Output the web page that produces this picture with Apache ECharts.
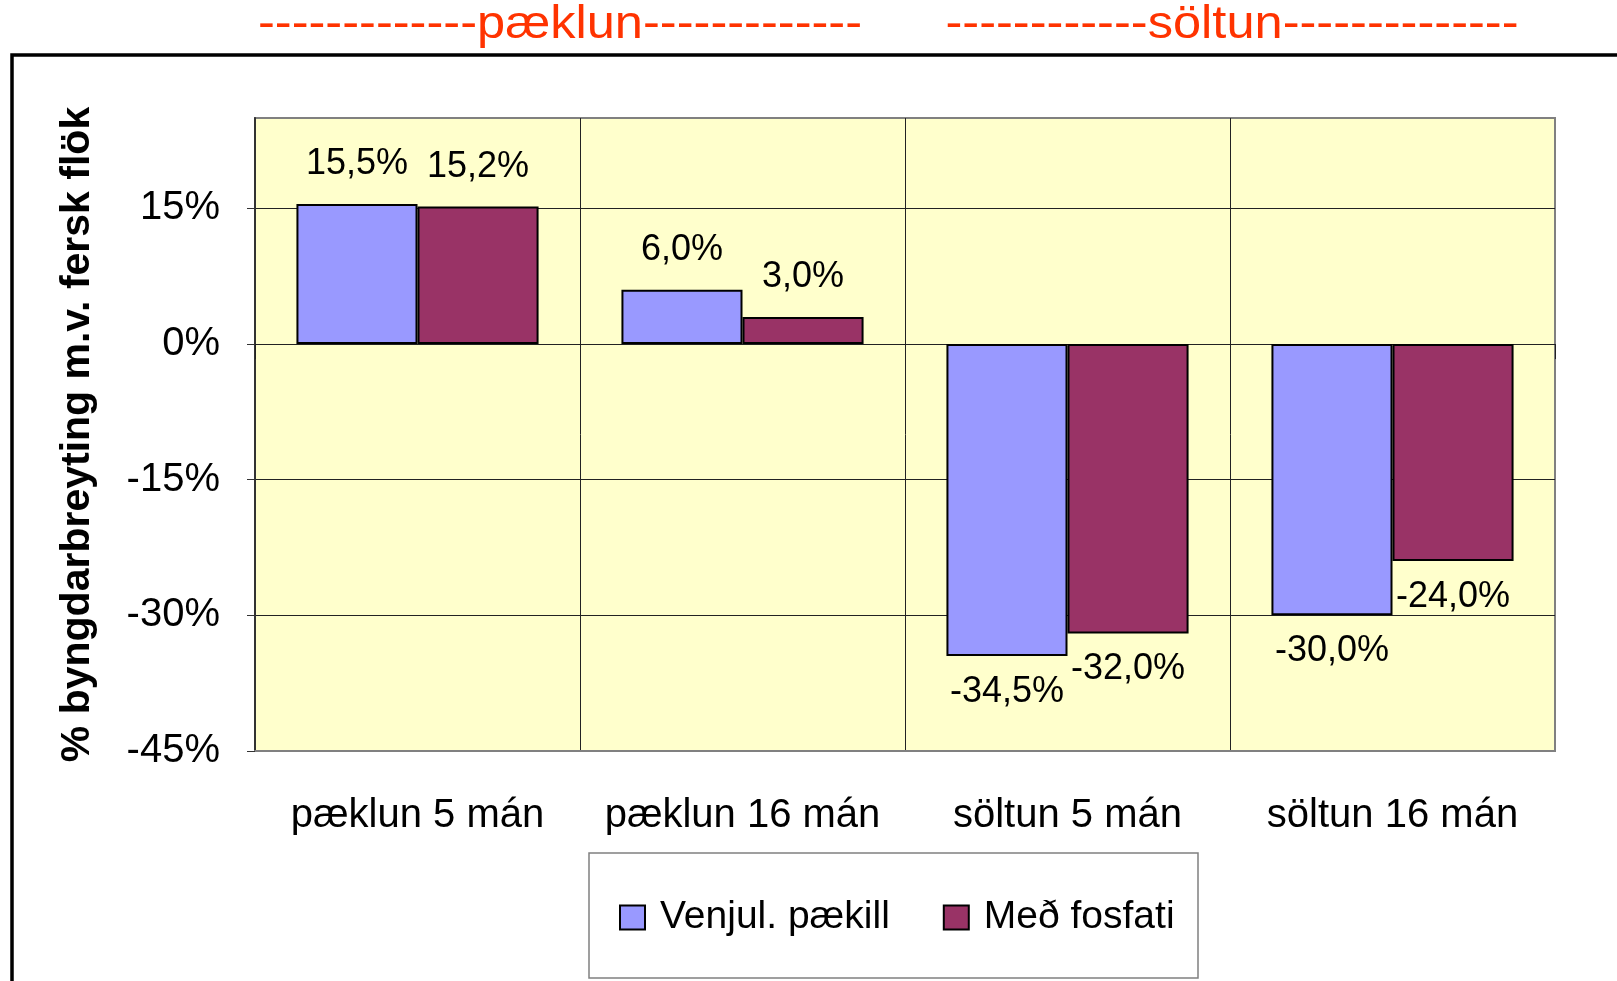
<!DOCTYPE html>
<html>
<head>
<meta charset="utf-8">
<script src="https://cdn.jsdelivr.net/npm/echarts@6/dist/echarts.min.js"></script>
<style>
  html, body { margin: 0; padding: 0; background: #fff; }
  #main { width: 1617px; height: 981px; }
</style>
</head>
<body>
<div id="main"></div>
<script>
// gögn lesin af myndinni
var categories = ["pæklun 5 mán", "pæklun 16 mán", "söltun 5 mán", "söltun 16 mán"];
var venjulPaekill = [15.5, 6.0, -34.5, -30.0];
var medFosfati = [15.2, 3.0, -32.0, -24.0];
var seriesNames = ["Venjul. pækill", "Með fosfati"];
var groupTitles = ["-------------pæklun-------------", "------------söltun--------------"];
var yName = "% byngdarbreyting m.v. fersk flök";

var FONT = "'Liberation Sans', Arial, sans-serif";

function fmt(v) {
  return v.toFixed(1).replace(".", ",") + "%";
}

// neikvæð gildi fá merkingu fyrir neðan súluna
function barData(values) {
  return values.map(function (v) {
    return {
      value: v,
      label: v < 0 ? { position: "bottom", distance: 18 } : { position: "top", distance: 22 }
    };
  });
}

var chart = echarts.init(document.getElementById("main"));
chart.setOption({
  backgroundColor: "#ffffff",
  animation: false,
  graphic: [
    // ytri rammi
    {
      type: "rect",
      shape: { x: 12, y: 55, width: 1700, height: 1000 },
      style: { fill: "none", stroke: "#000", lineWidth: 3.5 },
      z: 0
    },
    // rammi um skýringar
    {
      type: "rect",
      shape: { x: 589, y: 853, width: 609, height: 125 },
      style: { fill: "#fff", stroke: "#808080", lineWidth: 1.5 },
      z: 1
    },
    {
      type: "text",
      x: 560, y: 25, scaleX: 1.1,
      style: { text: groupTitles[0], font: "46px " + FONT, fill: "#ff3300", align: "center", verticalAlign: "middle" }
    },
    {
      type: "text",
      x: 1232, y: 25, scaleX: 1.1,
      style: { text: groupTitles[1], font: "46px " + FONT, fill: "#ff3300", align: "center", verticalAlign: "middle" }
    }
  ],
  legend: {
    data: seriesNames,
    left: 614,
    top: 893,
    icon: "rect",
    itemWidth: 25,
    itemHeight: 24,
    itemGap: 53,
    textStyle: { fontFamily: FONT, fontSize: 39, color: "#000", padding: [0, 0, 0, 10] },
    z: 5
  },
  grid: {
    left: 255,
    right: 62,
    top: 118,
    bottom: 230,
    show: true,
    backgroundColor: "#FFFFCC",
    borderColor: "#808080",
    borderWidth: 2
  },
  xAxis: [
    {
      type: "category",
      data: categories,
      position: "bottom",
      axisLine: { onZero: false, lineStyle: { color: "#808080", width: 2 } },
      axisTick: { show: false },
      axisLabel: { interval: 0, fontFamily: FONT, fontSize: 40, color: "#000", margin: 45 },
      splitLine: {
        show: true,
        interval: 0,
        lineStyle: { color: ["#808080", "#222", "#222", "#222", "#808080"], width: 1 }
      }
    },
    {
      // ásinn við 0 með strikum niður á við
      type: "category",
      data: categories,
      position: "bottom",
      axisLine: { onZero: true, lineStyle: { color: "#222", width: 1 } },
      axisTick: { show: true, interval: 0, length: 15, lineStyle: { color: "#222", width: 1 } },
      axisLabel: { show: false },
      splitLine: { show: false }
    }
  ],
  yAxis: {
    type: "value",
    min: -45,
    max: 25,
    interval: 15,
    name: yName,
    nameLocation: "middle",
    nameGap: 157,
    nameTextStyle: { fontFamily: FONT, fontSize: 41, fontWeight: "bold", color: "#000" },
    axisLine: { show: true, lineStyle: { color: "#333", width: 2 } },
    axisTick: { show: true, length: 8, lineStyle: { color: "#333", width: 1 } },
    axisLabel: {
      fontFamily: FONT, fontSize: 40, color: "#000", margin: 35,
      showMaxLabel: false,
      formatter: function (v) { return v + "%"; }
    },
    splitLine: {
      show: true,
      lineStyle: { color: ["#808080", "#222", "#222", "#222", "#222", "#808080"], width: 1 }
    }
  },
  series: [
    {
      name: seriesNames[0],
      type: "bar",
      data: barData(venjulPaekill),
      barGap: "0%",
      barCategoryGap: "25.5%",
      itemStyle: { color: "#9999FF", borderColor: "#000", borderWidth: 2 },
      label: {
        show: true, fontFamily: FONT, fontSize: 36, color: "#000",
        formatter: function (p) { return fmt(p.value); }
      }
    },
    {
      name: seriesNames[1],
      type: "bar",
      data: barData(medFosfati),
      barGap: "0%",
      barCategoryGap: "25.5%",
      itemStyle: { color: "#993366", borderColor: "#000", borderWidth: 2 },
      label: {
        show: true, fontFamily: FONT, fontSize: 36, color: "#000",
        formatter: function (p) { return fmt(p.value); }
      }
    }
  ]
});
</script>
</body>
</html>
